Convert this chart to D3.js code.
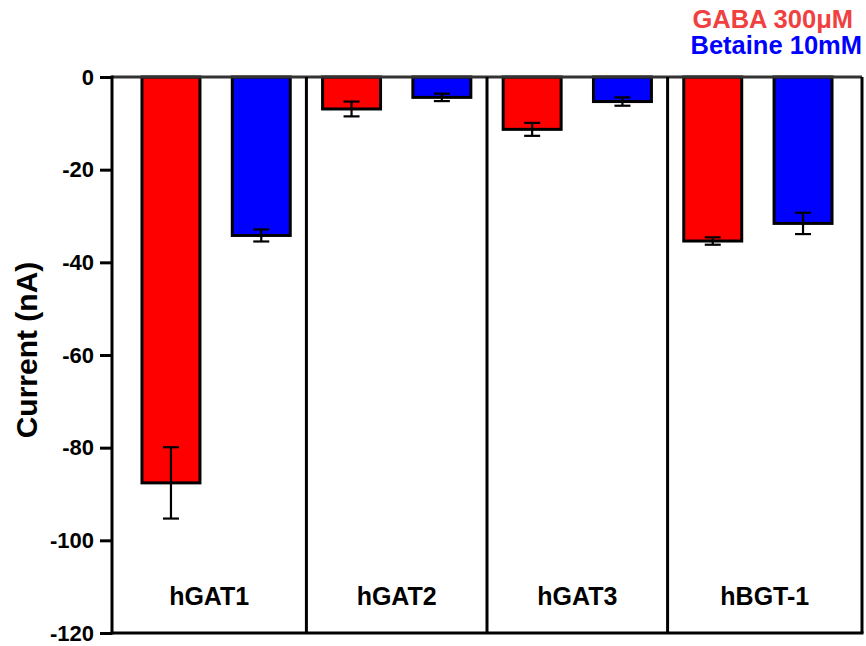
<!DOCTYPE html>
<html>
<head>
<meta charset="utf-8">
<script src="https://cdn.jsdelivr.net/npm/d3@7"></script>
<style>
  html, body { margin: 0; padding: 0; background: #fff; }
  svg { display: block; font-family: "Liberation Sans", Arial, sans-serif; font-weight: bold; }
</style>
</head>
<body>
<svg id="chart" width="866" height="646"></svg>
<script>
// Transporters and the two substrates applied to each
const transporters = ["hGAT1", "hGAT2", "hGAT3", "hBGT-1"];
const seriesNames = ["GABA 300μM", "Betaine 10mM"];
const seriesColors = ["#ff0000", "#0000ff"];
const legendColors = ["#f04040", "#0000ff"];

// Mean current (nA) and SEM per transporter
const gabaMean = [-87.6, -6.9, -11.3, -35.4];
const gabaSem = [7.7, 1.6, 1.4, 0.8];
const betaineMean = [-34.2, -4.4, -5.3, -31.6];
const betaineSem = [1.3, 0.8, 0.9, 2.3];

const yTicks = [0, -20, -40, -60, -80, -100, -120];
const yTickLabels = ["0", "-20", "-40", "-60", "-80", "-100", "-120"];

const bars = [];
transporters.forEach((t, i) => {
  bars.push({ key: t + "|0", group: t, s: 0, v: gabaMean[i], e: gabaSem[i] });
  bars.push({ key: t + "|1", group: t, s: 1, v: betaineMean[i], e: betaineSem[i] });
});

const svg = d3.select("#chart");
const plotLeft = 112, plotRight = 862, plotTop = 77, plotBottom = 633;

const y = d3.scaleLinear().domain([-120, 0]).range([plotBottom, plotTop]);
const x = d3.scaleBand()
  .domain(bars.map(d => d.key))
  .range([plotLeft, plotRight])
  .paddingInner(0.358)
  .paddingOuter(0.332);

// Group boundaries: midway between a group's last bar and the next group's first bar
const center = k => x(k) + x.bandwidth() / 2;
const bounds = [plotLeft];
for (let i = 0; i < transporters.length - 1; i++) {
  bounds.push((center(transporters[i] + "|1") + center(transporters[i + 1] + "|0")) / 2);
}
bounds.push(plotRight);

// Bars
svg.append("g").selectAll("rect").data(bars).join("rect")
  .attr("x", d => x(d.key))
  .attr("width", x.bandwidth())
  .attr("y", y(0))
  .attr("height", d => y(d.v) - y(0))
  .attr("fill", d => seriesColors[d.s])
  .attr("stroke", "#000")
  .attr("stroke-width", 3);

// Error bars (mean ± SEM)
const eb = svg.append("g").attr("stroke", "#000").attr("stroke-width", 2.2);
bars.forEach(d => {
  const cx = center(d.key);
  eb.append("line").attr("x1", cx).attr("x2", cx).attr("y1", y(d.v + d.e)).attr("y2", y(d.v - d.e));
  [d.v + d.e, d.v - d.e].forEach(val => {
    eb.append("line").attr("x1", cx - 8).attr("x2", cx + 8).attr("y1", y(val)).attr("y2", y(val));
  });
});

// Zero line
svg.append("line")
  .attr("x1", plotLeft).attr("x2", plotRight).attr("y1", y(0)).attr("y2", y(0))
  .attr("stroke", "#333").attr("stroke-width", 3);

// Group separators and right edge
svg.append("g").selectAll("line").data(bounds.slice(1)).join("line")
  .attr("x1", d => d).attr("x2", d => d)
  .attr("y1", y(0)).attr("y2", y(-120))
  .attr("stroke", "#000").attr("stroke-width", 3);

// Bottom edge
svg.append("line")
  .attr("x1", plotLeft - 1.5).attr("x2", plotRight + 1.5).attr("y1", y(-120)).attr("y2", y(-120))
  .attr("stroke", "#000").attr("stroke-width", 3);

// Y axis
const yAxis = d3.axisLeft(y)
  .tickValues(yTicks)
  .tickFormat((d, i) => yTickLabels[i])
  .tickSize(12)
  .tickPadding(6);
const ya = svg.append("g").attr("transform", `translate(${plotLeft},0)`).call(yAxis);
ya.select(".domain").attr("stroke", "#000").attr("stroke-width", 3)
  .attr("d", `M0,${y(0) - 1.5}V${y(-120) + 1.5}`);
ya.selectAll(".tick line").attr("stroke", "#000").attr("stroke-width", 3);
ya.selectAll(".tick text")
  .attr("fill", "#000")
  .style("font-size", "22px")
  .style("font-weight", "bold")
  .style("font-family", "'Liberation Sans', Arial, sans-serif");

// Y axis title
svg.append("text")
  .attr("transform", `translate(37,350) rotate(-90)`)
  .attr("text-anchor", "middle")
  .style("font-size", "30px")
  .text("Current (nA)");

// Group labels
svg.append("g").selectAll("text").data(transporters).join("text")
  .attr("x", (d, i) => (bounds[i] + bounds[i + 1]) / 2)
  .attr("y", 605)
  .attr("text-anchor", "middle")
  .style("font-size", "25px")
  .text(d => d);

// Legend
svg.append("g").selectAll("text").data(seriesNames).join("text")
  .attr("x", (d, i) => i === 0 ? 853 : 862)
  .attr("y", (d, i) => 28 + i * 26)
  .attr("text-anchor", "end")
  .attr("fill", (d, i) => legendColors[i])
  .style("font-size", "25.5px")
  .text(d => d);
</script>
</body>
</html>
